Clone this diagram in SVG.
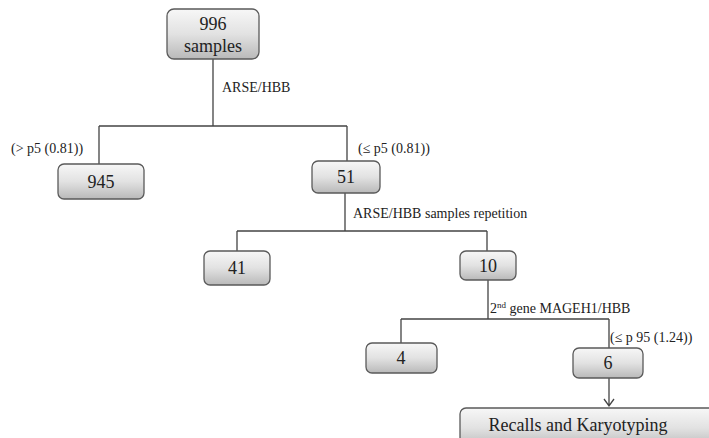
<svg xmlns="http://www.w3.org/2000/svg" width="709" height="438" viewBox="0 0 709 438">
<style>
.box{fill:url(#g);stroke:#5a5a5a;stroke-width:1.3}
.c{fill:none;stroke:#444;stroke-width:1.3}
</style>
<defs>
<linearGradient id="g" x1="0" y1="0" x2="0" y2="1">
<stop offset="0" stop-color="#f7f7f7"/>
<stop offset="0.5" stop-color="#e2e2e2"/>
<stop offset="1" stop-color="#b9b9b9"/>
</linearGradient>
</defs>
<rect width="709" height="438" fill="#fff"/>
<g id="connectors">
<path class="c" d="M213,59 V126 M99,126 H347 M99,126 V164 M347,126 V161"/>
<path class="c" d="M345,193 V231 M237,231 H487 M237,231 V251 M487,231 V251"/>
<path class="c" d="M488,280 V319 M401,319 H609 M401,319 V343 M609,319 V348"/>
<path class="c" d="M609,378 V406 M604,399 L609,406 L614,399"/>
</g>
<g id="labels" font-family="Liberation Serif" font-size="14" fill="#222">
<text style="font-family:'Liberation Serif',serif" x="222" y="92">ARSE/HBB</text>
<text style="font-family:'Liberation Serif',serif" x="11" y="153">(&gt; p5 (0.81))</text>
<text style="font-family:'Liberation Serif',serif" x="358" y="153">(≤ p5 (0.81))</text>
<text style="font-family:'Liberation Serif',serif" x="353" y="218">ARSE/HBB samples repetition</text>
<text style="font-family:'Liberation Serif',serif" x="490" y="313">2<tspan font-size="9" dy="-5">nd</tspan><tspan dy="5"> gene MAGEH1/HBB</tspan></text>
<text style="font-family:'Liberation Serif',serif" x="610" y="342">(≤ p 95 (1.24))</text>
</g>
<g id="n996" font-family="Liberation Serif" font-size="18" fill="#222" text-anchor="middle"><rect class="box" x="167" y="9" width="92" height="50" rx="7"/><text style="font-family:'Liberation Serif',serif" x="213" y="30">996</text><text style="font-family:'Liberation Serif',serif" x="213" y="52">samples</text></g>
<g id="n945" font-family="Liberation Serif" font-size="18" fill="#222" text-anchor="middle"><rect class="box" x="58" y="164" width="86" height="35" rx="6"/><text style="font-family:'Liberation Serif',serif" x="101" y="188">945</text></g>
<g id="n51" font-family="Liberation Serif" font-size="18" fill="#222" text-anchor="middle"><rect class="box" x="312" y="161" width="68" height="32" rx="6"/><text style="font-family:'Liberation Serif',serif" x="346" y="183">51</text></g>
<g id="n41" font-family="Liberation Serif" font-size="18" fill="#222" text-anchor="middle"><rect class="box" x="204" y="251" width="66" height="34" rx="6"/><text style="font-family:'Liberation Serif',serif" x="237" y="274">41</text></g>
<g id="n10" font-family="Liberation Serif" font-size="18" fill="#222" text-anchor="middle"><rect class="box" x="460" y="251" width="56" height="29" rx="6"/><text style="font-family:'Liberation Serif',serif" x="488" y="272">10</text></g>
<g id="n4" font-family="Liberation Serif" font-size="18" fill="#222" text-anchor="middle"><rect class="box" x="366" y="343" width="71" height="30" rx="6"/><text style="font-family:'Liberation Serif',serif" x="401" y="364">4</text></g>
<g id="n6" font-family="Liberation Serif" font-size="18" fill="#222" text-anchor="middle"><rect class="box" x="573" y="348" width="70" height="30" rx="6"/><text style="font-family:'Liberation Serif',serif" x="608" y="369">6</text></g>
<g id="nRecalls" font-family="Liberation Serif" font-size="18" fill="#222" text-anchor="middle"><rect class="box" x="460" y="408" width="270" height="40" rx="6"/><text style="font-family:'Liberation Serif',serif" x="578" y="431">Recalls and Karyotyping</text></g>
</svg>
